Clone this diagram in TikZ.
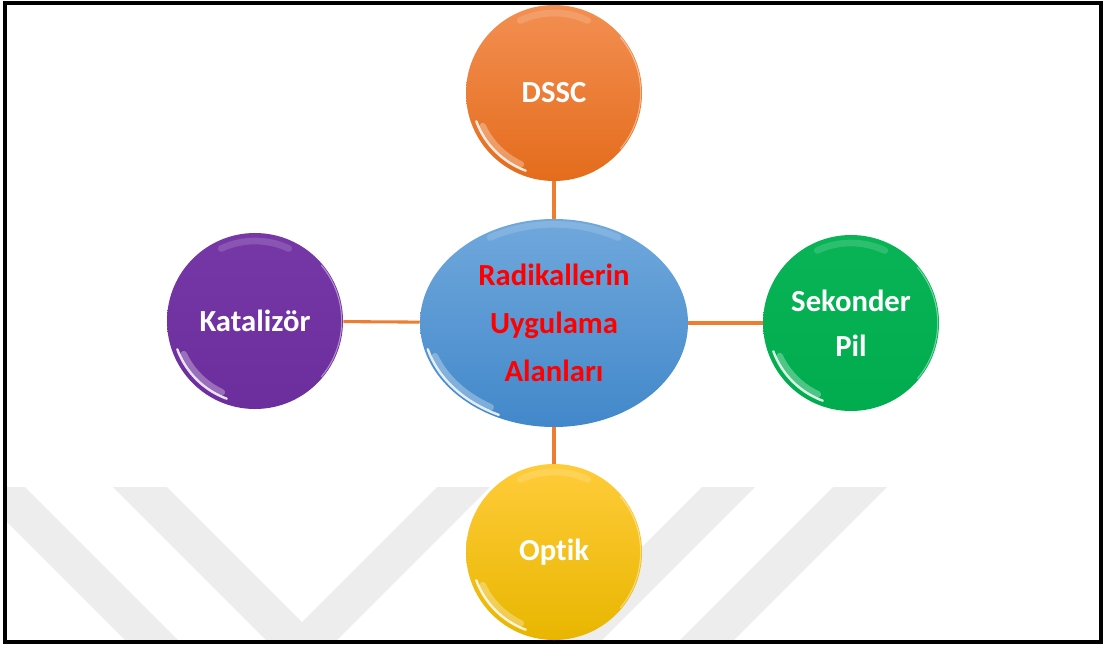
\documentclass[tikz,border=0pt]{standalone}
\usepackage{fontspec}
\setmainfont[Ligatures=NoCommon]{Carlito}
\usetikzlibrary{shapes.geometric}
\definecolor{connc}{RGB}{237,125,49}
\definecolor{wmc}{RGB}{237,237,237}
\definecolor{orTop}{RGB}{243,143,82}
\definecolor{orBot}{RGB}{228,108,28}
\definecolor{puTop}{RGB}{118,56,166}
\definecolor{puBot}{RGB}{108,46,156}
\definecolor{grTop}{RGB}{8,180,86}
\definecolor{grBot}{RGB}{0,172,78}
\definecolor{yeTop}{RGB}{255,204,58}
\definecolor{yeBot}{RGB}{232,182,0}
\definecolor{blTop}{RGB}{112,168,220}
\definecolor{blBot}{RGB}{66,136,202}
\tikzset{
  bubble/.style={circle, minimum size=132pt, inner sep=0pt, text=white,
    align=center, font=\fontsize{23}{34}\selectfont\bfseries},
  hub/.style={ellipse, minimum width=201pt, minimum height=156pt, inner sep=0pt,
    text=red, align=center, font=\fontsize{23}{36}\selectfont\bfseries,
    top color=blTop, bottom color=blBot},
  conn/.style={draw=connc, line width=2.3pt},
  wm/.style={fill=wmc},
  glossA/.style={white, opacity=.85, line width=1.8pt, line cap=round},
  glossB/.style={white, opacity=.30, line width=5pt, line cap=round},
}
\begin{document}
\begin{tikzpicture}[x=0.75pt,y=-0.75pt]
\useasboundingbox (0,0) rectangle (1103,644);
% watermark
\begin{scope}
\clip (5,3) rectangle (1101,642);
\fill[wm] (-28,487) -- (25,487) -- (198,660) -- (145,660) -- cycle;
\fill[wm] (113,487) -- (167,487) -- (302,622) -- (437,487) -- (490,487) -- (317,660) -- (286,660) -- cycle;
\fill[wm] (702,487) -- (755,487) -- (582,660) -- (529,660) -- cycle;
\fill[wm] (833,487) -- (887,487) -- (714,660) -- (660,660) -- cycle;
\end{scope}
\draw[line width=2.3pt] (5,3) rectangle (1101,642);
% nodes
\node[hub] (hub) at (554,323) {Radikallerin\\Uygulama\\Alanları};
\node[bubble, top color=orTop, bottom color=orBot] (dssc) at (554,93) {DSSC};
\node[bubble, top color=puTop, bottom color=puBot] (kat) at (255,321) {Katalizör};
\node[bubble, top color=grTop, bottom color=grBot] (sek) at (851,323) {Sekonder\\Pil};
\node[bubble, top color=yeTop, bottom color=yeBot] (opt) at (554,552) {Optik};
% connectors
\draw[conn] (dssc) -- (hub);
\draw[conn] (kat) -- (hub);
\draw[conn] (sek) -- (hub);
\draw[conn] (opt) -- (hub);
% gloss
\foreach \n in {dssc,kat,sek,opt}{
  \draw[glossB] (\n.center) ++(205:59pt) arc[start angle=205,end angle=245,radius=59pt];
  \draw[glossA] (\n.center) ++(200:62pt) arc[start angle=200,end angle=250,radius=62pt];
  \draw[glossB, opacity=.15] (\n.center) ++(65:60pt) arc[start angle=65,end angle=115,radius=60pt];
  \draw[white, opacity=.45, line width=.8pt] (\n.center) ++(-40:65pt) arc[start angle=-40,end angle=40,radius=65pt];
}
\draw[glossB] (hub.center) ++({95pt*cos(200)},{73pt*sin(200)}) arc[start angle=200,end angle=240,x radius=95pt,y radius=73pt];
\draw[glossA] (hub.center) ++({98pt*cos(195)},{76pt*sin(195)}) arc[start angle=195,end angle=245,x radius=98pt,y radius=76pt];
\draw[glossB, opacity=.15] (hub.center) ++({96pt*cos(60)},{74pt*sin(60)}) arc[start angle=60,end angle=120,x radius=96pt,y radius=74pt];
\end{tikzpicture}
\end{document}
